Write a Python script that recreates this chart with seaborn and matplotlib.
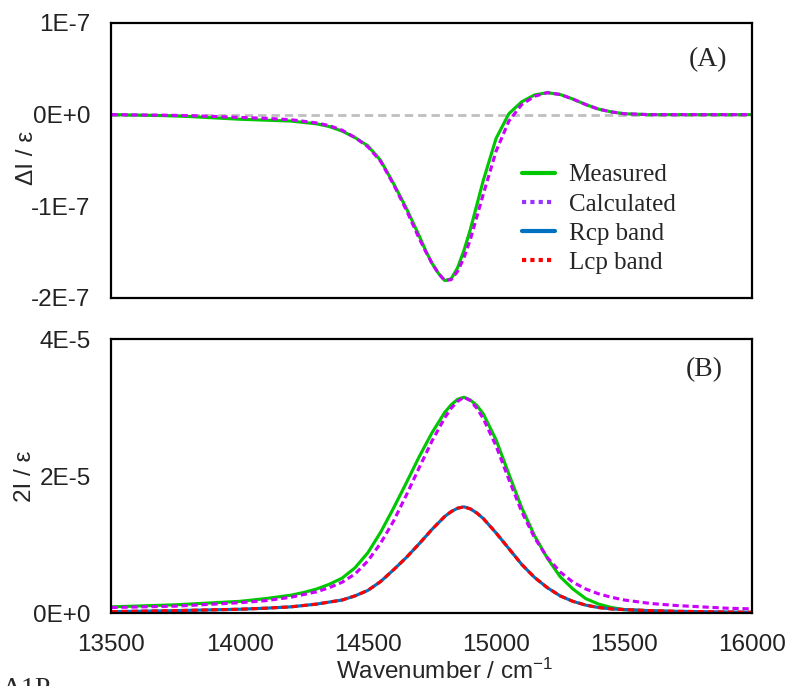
import numpy as np
import pandas as pd
import matplotlib
matplotlib.use("Agg")
import matplotlib.pyplot as plt
from matplotlib.lines import Line2D
import seaborn as sns

# ---- data ----
# panel A: delta I / eps, units of 1E-7
wn_a = [13500, 13600, 13700, 13800, 13900, 14000, 14100, 14200, 14300, 14350,
        14400, 14450, 14500, 14550, 14600, 14650, 14700, 14725, 14750, 14775,
        14800, 14825, 14850, 14875, 14900, 14950, 15000, 15050, 15100, 15150,
        15200, 15250, 15300, 15350, 15400, 15450, 15500, 15600, 15800, 16000]
meas_a = [0.0, -0.005, -0.01, -0.02, -0.035, -0.05, -0.06, -0.07, -0.10, -0.13,
          -0.18, -0.25, -0.34, -0.50, -0.75, -1.02, -1.32, -1.48, -1.62, -1.73,
          -1.81, -1.79, -1.67, -1.48, -1.25, -0.72, -0.26, 0.01, 0.14, 0.215,
          0.24, 0.22, 0.17, 0.11, 0.06, 0.03, 0.01, 0.0, 0.0, 0.0]
calc_a = [0.0, -0.003, -0.006, -0.01, -0.02, -0.03, -0.04, -0.055, -0.09, -0.12,
          -0.17, -0.25, -0.35, -0.51, -0.76, -1.04, -1.35, -1.49, -1.62, -1.73,
          -1.81, -1.80, -1.71, -1.56, -1.36, -0.87, -0.40, -0.07, 0.11, 0.20,
          0.24, 0.22, 0.17, 0.11, 0.06, 0.03, 0.01, 0.0, 0.0, 0.0]

# panel B: 2I / eps, units of 1E-5
wn_b = [13500, 13750, 14000, 14100, 14200, 14250, 14300, 14350, 14400, 14450,
        14500, 14550, 14600, 14650, 14700, 14750, 14800, 14825, 14850, 14875,
        14900, 14925, 14950, 15000, 15050, 15100, 15150, 15200, 15250, 15300,
        15350, 15400, 15450, 15500, 15600, 15700, 15800, 15900, 16000]
meas_b = [0.09, 0.12, 0.17, 0.21, 0.26, 0.30, 0.35, 0.42, 0.51, 0.66,
          0.88, 1.18, 1.53, 1.90, 2.28, 2.63, 2.93, 3.04, 3.12, 3.15,
          3.11, 3.03, 2.91, 2.53, 2.03, 1.54, 1.13, 0.80, 0.53, 0.35,
          0.21, 0.13, 0.08, 0.05, 0.03, 0.02, 0.01, 0.005, 0.0]
calc_b = [0.08, 0.10, 0.15, 0.18, 0.23, 0.27, 0.31, 0.37, 0.45, 0.57,
          0.76, 1.02, 1.34, 1.72, 2.12, 2.51, 2.85, 2.99, 3.09, 3.15,
          3.10, 2.99, 2.84, 2.44, 1.95, 1.48, 1.10, 0.81, 0.60, 0.45,
          0.35, 0.28, 0.23, 0.19, 0.14, 0.11, 0.09, 0.07, 0.06]
rcp_b = [0.02, 0.035, 0.055, 0.07, 0.09, 0.11, 0.13, 0.16, 0.19, 0.25,
         0.33, 0.46, 0.63, 0.81, 1.01, 1.22, 1.41, 1.48, 1.53, 1.55,
         1.52, 1.46, 1.38, 1.17, 0.94, 0.71, 0.52, 0.37, 0.25, 0.17,
         0.115, 0.08, 0.06, 0.05, 0.035, 0.025, 0.02, 0.015, 0.01]
lcp_b = list(rcp_b)

xticks = [13500, 14000, 14500, 15000, 15500, 16000]
yticks_a = [-2e-7, -1e-7, 0, 1e-7]
yticklabels_a = ["-2E-7", "-1E-7", "0E+0", "1E-7"]
yticks_b = [0, 2e-5, 4e-5]
yticklabels_b = ["0E+0", "2E-5", "4E-5"]
legend_labels = ["Measured", "Calculated", "Rcp band", "Lcp band"]

df_a = pd.DataFrame({"wn": wn_a,
                     "meas": np.array(meas_a) * 1e-7,
                     "calc": np.array(calc_a) * 1e-7,
                     "zero": 0.0})
df_b = pd.DataFrame({"wn": wn_b,
                     "meas": np.array(meas_b) * 1e-5,
                     "calc": np.array(calc_b) * 1e-5,
                     "rcp": np.array(rcp_b) * 1e-5,
                     "lcp": np.array(lcp_b) * 1e-5})

# ---- style ----
sns.set_style("white")
plt.rcParams['font.family'] = ['Liberation Sans', 'DejaVu Sans']
plt.rcParams['mathtext.default'] = 'regular'

GREEN = '#00C800'
MAGENTA = '#CC00FF'
BLUE = '#0070C0'
RED = '#FF0000'
GRAY = '#BFBFBF'
LW = 2.25
TICK_FS = 17.5

fig = plt.figure(figsize=(7.86, 6.86), dpi=100)
ax1 = fig.add_axes([0.1418, 0.5656, 0.8155, 0.4009])
ax2 = fig.add_axes([0.1418, 0.1064, 0.8155, 0.3994])

# panel A
sns.lineplot(data=df_a, x="wn", y="zero", ax=ax1, color=GRAY, linewidth=2)
ax1.lines[-1].set_dashes([3, 1.8])
sns.lineplot(data=df_a, x="wn", y="meas", ax=ax1, color=GREEN, linewidth=LW)
sns.lineplot(data=df_a, x="wn", y="calc", ax=ax1, color=MAGENTA, linewidth=LW)
ax1.lines[-1].set_dashes([2, 1.2])

# panel B
sns.lineplot(data=df_b, x="wn", y="meas", ax=ax2, color=GREEN, linewidth=LW)
sns.lineplot(data=df_b, x="wn", y="calc", ax=ax2, color=MAGENTA, linewidth=LW)
ax2.lines[-1].set_dashes([2, 1.2])
sns.lineplot(data=df_b, x="wn", y="rcp", ax=ax2, color=BLUE, linewidth=LW)
sns.lineplot(data=df_b, x="wn", y="lcp", ax=ax2, color=RED, linewidth=LW)
ax2.lines[-1].set_dashes([2, 1.2])

for ax in (ax1, ax2):
    ax.set_xlim(13500, 16000)
    ax.set_xticks(xticks)
    for s in ax.spines.values():
        s.set_color('black')
        s.set_linewidth(1.6)
    ax.tick_params(length=0, labelsize=TICK_FS, colors='#222222')
    ax.tick_params(axis='y', pad=15)
    ax.tick_params(axis='x', pad=15)
    ax.set_xlabel("")

ax1.set_ylim(-2e-7, 1e-7)
ax1.set_yticks(yticks_a, yticklabels_a)
ax1.set_xticklabels([])
ax1.set_ylabel("ΔI / ε", fontsize=TICK_FS)
ax1.yaxis.set_label_coords(-0.115, 0.51)

ax2.set_ylim(0, 4e-5)
ax2.set_yticks(yticks_b, yticklabels_b)
ax2.set_ylabel("2I / ε", fontsize=TICK_FS)
ax2.yaxis.set_label_coords(-0.117, 0.5)
ax2.set_xlabel("Wavenumber / cm$^{-1}$", fontsize=TICK_FS)
ax2.xaxis.set_label_coords(0.52, -0.165)

serif = ['Liberation Serif', 'DejaVu Serif']
ax1.text(0.93, 0.865, "(A)", transform=ax1.transAxes, fontsize=20,
         family=serif, ha='center', va='center')
ax2.text(0.925, 0.887, "(B)", transform=ax2.transAxes, fontsize=20,
         family=serif, ha='center', va='center')

handles = [Line2D([], [], color=GREEN, lw=3),
           Line2D([], [], color='#9933FF', lw=3, linestyle=(0, (1, 1))),
           Line2D([], [], color=BLUE, lw=3),
           Line2D([], [], color=RED, lw=3, linestyle=(0, (1, 1)))]
ax1.legend(handles, legend_labels, loc='upper left', bbox_to_anchor=(0.641, 0.488),
           frameon=False, prop={'family': serif, 'size': 18},
           handlelength=1.3, handletextpad=0.55, labelspacing=0.27,
           borderpad=0, borderaxespad=0)

fig.text(0.002, 1 - 677 / 686, "A1P", fontsize=20, family=serif,
         ha='left', va='top')

fig.savefig("out.png", dpi=100)
